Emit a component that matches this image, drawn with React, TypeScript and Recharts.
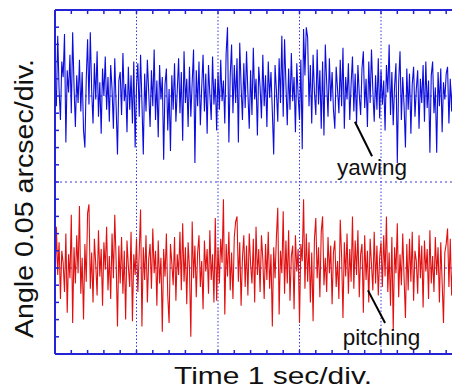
import { LineChart, Line, XAxis, YAxis, ReferenceLine, ReferenceDot } from 'recharts';

// angle in milliarcsec (0.05 arcsec/div = 50 mas/div), sampled every 1/60 s
const YAW = [
  8, -6, 35, 4, -14, 20, 11, 36, -27, 15, 2, 24, -10, 37, 6, -18, 12, -4, 21, -9,
  14, -20, -30, 10, 33, -5, 37, 3, -16, 19, -2, 26, -12, 8, -22, 16, 0, 23, -8, 11,
  -15, 18, 4, -19, 22, -6, -34, 9, 14, -11, 25, -3, 7, -21, 17, -8, 12, -16, 20, -30,
  6, 19, -12, 24, -4, -34, 13, -9, 21, 2, -18, 15, -6, 27, -14, 9, -24, 18, -2, 11,
  -37, 7, 16, -20, 4, -32, 12, -8, 19, -15, 3, 22, -10, 14, -26, 26, -4, 10, -18, 17,
  -12, 8, 27, -39, 15, -6, 20, -17, 5, 24, -9, 13, -22, 18, 1, -14, 23, -5, 10, -20,
  14, -8, 21, -3, 9, -16, 25, 40, -27, 12, 30, -10, 18, -4, 22, -27, 31, 6, -14, 19,
  -7, 26, 2, -19, 15, -11, 28, -2, 10, -23, 17, 5, -13, 24, -6, 12, -18, 20, -1, 14,
  -9, -34, 18, 3, -15, 22, -4, 35, -12, 33, 7, -17, 16, -8, 25, -3, 11, -21, 19, 0,
  -14, 21, -31, 39, 12, 40, 34, -6, 18, -16, 24, 2, -11, 27, -5, 15, -19, 20, -23, 30,
  8, -12, 22, -3, 14, -8, -19, 17, 4, -10, 21, -6, 28, -19, 11, -2, 19, -14, 7, 23,
  -9, 13, -16, 18, 1, -11, 16, 26, -7, 10, -18, 20, -4, 27, 3, -15, 12, -8, 22, -13,
  15, -5, 9, -20, 18, 2, 30, -11, 14, -17, 6, 19, -39, 8, 26, -14, 11, -6, -30, 16,
  -8, 13, -22, 7, 17, -12, 4, 15, -19, 10, -4, 18, -15, 20, -7, 9, -33, 12, 20, -10,
  5, -33, 14, -6, 16, -21, 8, -2, 13, 17, -16, 10, -9, 15, -24, 6, 18, -11, 3, 12,
];

const PITCH = [
  -10, 24, -4, 15, -18, 10, 3, -14, 20, -26, 8, -6, 31, -32, 12, -9, 19, -3, 36, -15,
  6, -30, 14, -8, 32, 37, -12, 9, -20, 17, 2, -16, 22, -5, 11, -22, 15, -1, 24, -13,
  7, -18, 20, -6, 31, 4, -34, 13, -9, 18, -15, 10, -30, 16, 1, -11, 21, -31, 8, -4,
  17, -14, 9, 34, -34, 12, -7, 19, -20, 5, 14, -12, 23, -3, 10, -22, 16, -9, 6, -37,
  11, -5, 20, -16, -32, 14, 3, -10, 18, -19, 8, -4, 21, -13, 26, -8, 12, -21, 15, 0,
  -40, 27, -6, 13, -17, 9, 19, -11, 4, -24, 16, -2, 11, -15, 22, -7, 8, -20, 29, -19,
  12, -9, 17, 3, 40, -27, 14, -5, 21, -13, 9, -18, 18, 27, 30, -8, 15, -22, 6, 19,
  -11, 13, -16, 20, 2, -9, 17, -20, 24, -4, 11, -14, 19, 5, -18, 14, -7, 21, -12, 8,
  -34, 12, -6, 18, 35, -27, 10, -3, 33, -15, 16, -9, 22, -19, 7, 13, -24, 19, -2, 11,
  -32, 14, 4, 40, -12, 20, -8, 15, -20, 9, -31, 17, 29, -6, 12, -17, 21, 30, -10, 6,
  -14, 18, -3, 13, -21, 9, 16, -11, 4, -18, 28, 7, -29, 15, -5, 20, -15, 11, -8, 30,
  -12, 16, -4, 22, -17, 8, 14, -26, 19, -7, 10, -20, 17, 2, -13, 21, -9, 13, -16, 6,
  15, -11, 19, -5, 30, -14, 9, -22, 18, -36, 12, -3, 26, -17, 8, -10, 20, -6, -29, 14,
  -13, 17, -8, 21, -19, 10, 4, -15, 19, -6, 13, -23, 16, -2, 11, -18, 22, -9, 7, -14,
  18, -4, 12, -20, 15, -8, -32, 9, 14, 23, -11, 17, -16, 6, 20, -13, 10, -5, 16, -19,
];

const SAMPLE_RATE = 60; // samples per second
const X_MINOR = [0, 0.2, 0.4, 0.6, 0.8, 1, 1.2, 1.4, 1.6, 1.8, 2, 2.2, 2.4, 2.6, 2.8, 3, 3.2, 3.4, 3.6, 3.8, 4, 4.2, 4.4, 4.6, 4.8, 5];
const X_GRID = [1, 2, 3, 4];
const Y_MINOR = [-150, -140, -130, -120, -110, -100, -90, -80, -70, -60, -50, -40, -30, -20, -10, 0, 10, 20, 30, 40, 50];
const Y_GRID = [0, -50, -100]; // on yaw scale

// annotation anchors (time s, mas)
const YAW_TAG = { t: 3.46, v: -46 };
const YAW_ARROW = [{ t: 3.68, v: -15 }, { t: 3.89, v: -35 }];
const PITCH_TAG = { t: 3.53, v: -45 };
const PITCH_ARROW = [{ t: 3.84, v: -13 }, { t: 4.05, v: -32 }];

const data = YAW.map((y, i) => ({ t: i / SAMPLE_RATE, yaw: y, pitch: PITCH[i] }));

const AXIS = '#2424d6';
const GRID = '#3a3ae0';
const FONT = '"Liberation Sans", Arial, Helvetica, sans-serif';

const noLabel = () => <g />;

const tagLabel = (text: string) => (props: any) => {
  const vb = props.viewBox || {};
  return (
    <text x={vb.x} y={vb.y} fontFamily={FONT} fontSize={22.5} fill="#111">
      {text}
    </text>
  );
};

export default function App() {
  return (
    <div style={{ position: 'fixed', left: 0, top: 0, width: 452, height: 389, overflow: 'hidden', background: '#fff' }}>
      <LineChart width={480} height={389} data={data} margin={{ top: 9, right: 17.5, bottom: 34, left: 55 }}>
        <XAxis dataKey="t" type="number" domain={[0, 5]} ticks={X_MINOR} interval={0} tick={noLabel} height={1}
          tickSize={-4} axisLine={{ stroke: AXIS, strokeWidth: 2 }} tickLine={{ stroke: AXIS, strokeWidth: 1.5 }} allowDataOverflow />
        <XAxis xAxisId="top" orientation="top" dataKey="t" type="number" domain={[0, 5]} ticks={X_MINOR} interval={0}
          tick={noLabel} height={1} tickSize={-4} axisLine={{ stroke: AXIS, strokeWidth: 2 }}
          tickLine={{ stroke: AXIS, strokeWidth: 1.5 }} allowDataOverflow />
        <YAxis yAxisId="yaw" type="number" domain={[-150, 50]} ticks={Y_MINOR} interval={0} tick={noLabel} mirror
          tickSize={4} axisLine={{ stroke: AXIS, strokeWidth: 2 }} tickLine={{ stroke: AXIS, strokeWidth: 1.5 }} allowDataOverflow />
        <YAxis yAxisId="pitch" type="number" domain={[-50, 150]} hide allowDataOverflow />

        {X_GRID.map((x) => (
          <ReferenceLine key={'vx' + x} x={x} yAxisId="yaw" stroke={GRID} strokeDasharray="1.5 2" />
        ))}
        {Y_GRID.map((y) => (
          <ReferenceLine key={'hy' + y} y={y} yAxisId="yaw" stroke={GRID} strokeDasharray="2 3" />
        ))}

        <Line yAxisId="yaw" dataKey="yaw" stroke="#0c0cdc" strokeWidth={1.1} dot={false} isAnimationActive={false} />
        <Line yAxisId="pitch" dataKey="pitch" stroke="#e01010" strokeWidth={1.1} dot={false} isAnimationActive={false} />

        <ReferenceLine yAxisId="yaw" segment={YAW_ARROW.map((p) => ({ x: p.t, y: p.v }))} stroke="#000" strokeWidth={2} />
        <ReferenceLine yAxisId="pitch" segment={PITCH_ARROW.map((p) => ({ x: p.t, y: p.v }))} stroke="#000" strokeWidth={2} />
        <ReferenceDot yAxisId="yaw" x={YAW_TAG.t} y={YAW_TAG.v} r={0} stroke="none" label={tagLabel('yawing')} />
        <ReferenceDot yAxisId="pitch" x={PITCH_TAG.t} y={PITCH_TAG.v} r={0} stroke="none" label={tagLabel('pitching')} />

        <text x={273} y={384} textAnchor="middle" fontFamily={FONT} fontSize={24} fill="#111"
          textLength={198} lengthAdjust="spacingAndGlyphs">
          Time  1 sec/div.
        </text>
        <text x={33} y={198.5} transform="rotate(-90, 33, 198.5)" textAnchor="middle" fontFamily={FONT} fontSize={25}
          fill="#111" textLength={279} lengthAdjust="spacingAndGlyphs">
          Angle  0.05 arcsec/div.
        </text>
      </LineChart>
    </div>
  );
}
